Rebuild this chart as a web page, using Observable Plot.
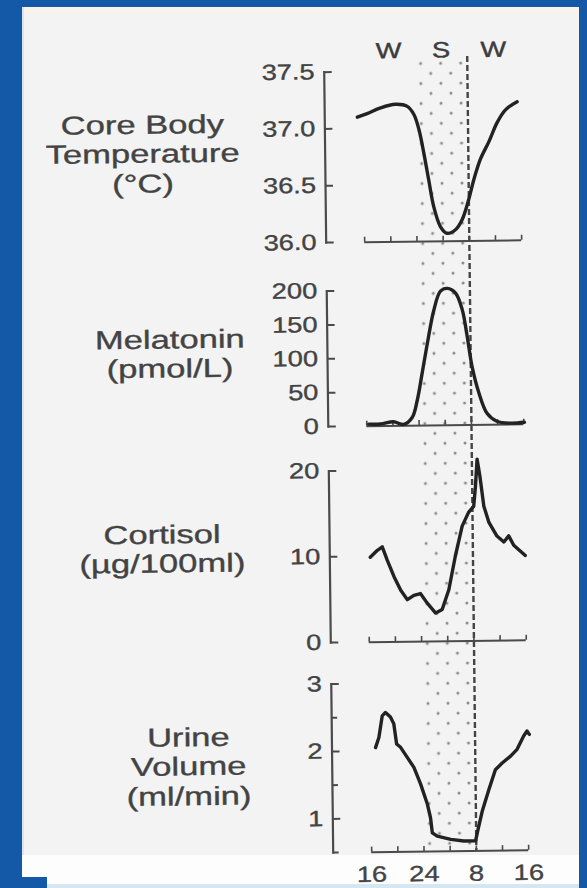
<!DOCTYPE html>
<html>
<head>
<meta charset="utf-8">
<script src="https://cdn.jsdelivr.net/npm/d3@7"></script>
<script src="https://cdn.jsdelivr.net/npm/@observablehq/plot@0.6"></script>
<style>
  html, body { margin: 0; padding: 0; }
  body { width: 587px; height: 888px; overflow: hidden; position: relative; background: #1459a7; font-family: "Liberation Sans", Arial, sans-serif; }
  .bgpanel { position: absolute; left: 22px; top: 7px; width: 557px; height: 848px; background: #f3f3f3; box-shadow: inset 2px 0 0 #dbe6f1; }
  .topstrip { position: absolute; left: 24px; top: 7px; width: 555px; height: 6px; background: #faf3ec; }
  .bottomstrip { position: absolute; left: 22px; top: 855px; width: 557px; height: 29px; background: #fdfdfd; }
  .bottomline { position: absolute; left: 47px; top: 884px; width: 532px; height: 4px; background: #d6e7f4; }
  .cornerblock { position: absolute; left: 0; top: 877px; width: 47px; height: 11px; background: #1459a7; }
  #chart { position: absolute; left: 0; top: 0; width: 587px; height: 888px; transform: rotate(-0.66deg); transform-origin: 293.5px 444px; }
  #chart svg { position: absolute; left: 0; }
  .ylabel { position: absolute; width: 260px; height: 29.5px; text-align: center; font-size: 26px; line-height: 29.5px; color: #434343; -webkit-text-stroke: 0.35px #434343; transform: scaleX(1.33); transform-origin: 50% 50%; white-space: nowrap; }
</style>
</head>
<body>
<div class="bgpanel"></div>
<div class="topstrip"></div>
<div class="bottomstrip"></div>
<div class="bottomline"></div>
<div class="cornerblock"></div>
<svg width="0" height="0" style="position:absolute">
  <defs>
    <pattern id="stipple" width="20" height="20" patternUnits="userSpaceOnUse">
      <circle cx="5" cy="5" r="1.5" fill="#8a8a8a"></circle>
      <circle cx="15" cy="15" r="1.5" fill="#8a8a8a"></circle>
    </pattern>
  </defs>
</svg>
<div id="chart"></div>
<script>
// ---- data ----
const xTicks = [16, 20, 24, 28, 32, 36, 40];
const xLabelHours = [16, 24, 32, 40];
const xLabelTexts = ["16", "24", "8", "16"];
const sleepStart = [24];
const sleepEnd = [32];
const periodHours = [20, 28, 36];
const periodLabels = ["W", "S", "W"];

const tempLabel = ["Core Body", "Temperature", "(°C)"];
const tempTicks = [36.0, 36.5, 37.0, 37.5];
const tempHours = [15.1, 16.6, 18.66, 20.95, 22.74, 23.73, 24.47, 25.19, 25.9, 26.6, 27.6, 28.6, 29.9, 30.95, 32.0, 32.8, 33.85, 35.15, 36.47, 37.75, 39.55];
const tempValues = [37.10, 37.13, 37.18, 37.21, 37.19, 37.12, 36.99, 36.78, 36.54, 36.31, 36.13, 36.07, 36.10, 36.19, 36.37, 36.54, 36.72, 36.87, 37.04, 37.15, 37.22];

const melLabel = ["Melatonin", "(pmol/L)"];
const melTicks = [0, 50, 100, 150, 200];
const melHours = [16.3, 18.1, 20.1, 21.65, 22.95, 23.75, 24.55, 25.4, 26.45, 27.5, 28.55, 29.8, 30.8, 31.5, 32.2, 33.2, 34.4, 35.9, 38.0, 40.1];
const melValues = [3, 3, 6, 2, 12, 37, 77, 121, 170, 198, 202, 195, 170, 131, 86, 47, 17, 5, 2, 3];

const cortLabel = ["Cortisol", "(µg/100ml)"];
const cortTicks = [0, 10, 20];
const cortHours = [16.3, 17.4, 18.15, 18.9, 19.9, 20.9, 21.9, 22.9, 23.9, 24.9, 26.2, 27.2, 28.25, 29.3, 30.4, 31.4, 32.2, 32.5, 32.8, 33.2, 33.75, 34.5, 35.7, 36.75, 37.5, 38.25, 40.0];
const cortValues = [9.9, 10.7, 11.1, 9.5, 7.6, 6.0, 4.9, 5.4, 5.6, 4.5, 3.3, 3.7, 6.0, 9.9, 13.4, 15.0, 15.7, 18.0, 21.2, 19.2, 15.7, 13.8, 12.2, 11.5, 12.2, 11.1, 9.9];

const urineLabel = ["Urine", "Volume", "(ml/min)"];
const urineTicks = [1, 2, 3];
const urineMinorTicks = [0.5, 1.5, 2.5];
const urineHours = [16.77, 17.3, 17.85, 18.35, 19.1, 19.6, 20.0, 20.6, 21.6, 22.6, 23.6, 24.6, 25.05, 25.3, 26.05, 28.1, 30.1, 31.9, 32.25, 33.0, 34.0, 35.05, 36.1, 37.4, 38.4, 39.45, 39.95, 40.3];
const urineValues = [2.05, 2.2, 2.52, 2.57, 2.5, 2.4, 2.1, 2.05, 1.9, 1.75, 1.5, 1.2, 1.0, 0.775, 0.725, 0.675, 0.65, 0.65, 0.8, 1.1, 1.4, 1.7, 1.8, 1.9, 2.0, 2.2, 2.27, 2.22];

// ---- style ----
const AXIS = "#4a4a4a";
const TEXT = "#434343";
const CURVE = "#222";
const FONT = "Liberation Sans, Arial, sans-serif";
const X_RANGE = [366.5, 523.5];
const Y_AXIS_X = 328;
const STRETCH = 1.24;

const chart = document.getElementById("chart");

function stretchText(svg) {
  svg.querySelectorAll("text").forEach(t => {
    const len = t.getComputedTextLength();
    if (len > 0) {
      t.setAttribute("textLength", (len * STRETCH).toFixed(2));
      t.setAttribute("lengthAdjust", "spacingAndGlyphs");
    }
  });
}

function addLabel(lines, cx, firstLineY) {
  lines.forEach((line, i) => {
    const div = document.createElement("div");
    div.className = "ylabel";
    div.style.left = (cx - 130) + "px";
    div.style.top = (firstLineY - 14.75 + i * 29.5) + "px";
    div.textContent = line;
    chart.append(div);
  });
}

// ---- sleep band overlay ----
const sleepRows = sleepStart.map((s, i) => ({start: s, end: sleepEnd[i]}));
const periodRows = periodHours.map((h, i) => ({h, label: periodLabels[i]}));
const overlayTop = 20;
const bandTop = 58, bandBottom = 852;
const overlay = Plot.plot({
  width: 587,
  height: bandBottom - overlayTop,
  marginTop: bandTop - overlayTop,
  marginBottom: 0,
  marginLeft: Y_AXIS_X,
  marginRight: 587 - X_RANGE[1],
  x: {domain: [16, 40], range: X_RANGE, axis: null, label: null},
  style: {background: "transparent", overflow: "visible", fontFamily: FONT},
  marks: [
    Plot.rect(sleepRows, {x1: "start", x2: "end", fill: "url(#stipple)"}),
    Plot.ruleX(sleepRows, {x: "end", stroke: "#444", strokeWidth: 2.4, strokeDasharray: "6,3"}),
    Plot.text(periodRows, {x: "h", text: "label", frameAnchor: "top", dy: -15, fontSize: 22, fill: "#3c3c3c",
      stroke: "#3c3c3c", strokeWidth: 0.4})
  ]
});
overlay.style.top = overlayTop + "px";
chart.append(overlay);
stretchText(overlay);

// ---- panels ----
function makePanel(cfg) {
  const {hours, values, domain, ticks, minorTicks, format, yTop, yBottom, xLabels, curve} = cfg;
  const mt = 18, mb = xLabels ? 38 : 10;
  const height = (yBottom - yTop) + mt + mb;
  const rows = hours.map((h, i) => ({h, v: values[i]}));
  const marks = [
    Plot.frame({anchor: "left", stroke: AXIS, strokeWidth: 2.2}),
    Plot.axisY({anchor: "left", ticks, tickSize: 8, dx: 8, tickPadding: 9.5, tickFormat: format, label: null,
      stroke: AXIS, strokeWidth: 2, fill: TEXT, fontSize: 22, textStroke: TEXT, textStrokeWidth: 0.35})
  ];
  if (minorTicks) {
    marks.push(Plot.axisY({anchor: "left", ticks: minorTicks, tickSize: 6, dx: 6, fill: "none", label: null,
      stroke: AXIS, strokeWidth: 2}));
  }
  marks.push(
    Plot.ruleY([domain[0]], {x1: xTicks[0], x2: xTicks[xTicks.length - 1], stroke: AXIS, strokeWidth: 2}),
    Plot.axisX({anchor: "bottom", ticks: xTicks, tickSize: 5, dy: -5, fill: "none", label: null, stroke: AXIS, strokeWidth: 1.6})
  );
  if (xLabels) {
    marks.push(Plot.axisX({anchor: "bottom", ticks: xLabelHours, tickSize: 0, tickPadding: 14, label: null,
      tickFormat: d => xLabelTexts[xLabelHours.indexOf(d)], fill: TEXT, fontSize: 22, textStroke: TEXT, textStrokeWidth: 0.35}));
  }
  marks.push(Plot.line(rows, {x: "h", y: "v", stroke: CURVE, strokeWidth: 3.4, curve, strokeLinejoin: "round", strokeLinecap: "round"}));
  const svg = Plot.plot({
    width: 587,
    height,
    marginLeft: Y_AXIS_X,
    marginRight: 587 - X_RANGE[1],
    marginTop: mt,
    marginBottom: mb,
    x: {domain: [16, 40], range: X_RANGE, label: null},
    y: {domain, label: null},
    style: {background: "transparent", overflow: "visible", fontFamily: FONT},
    marks
  });
  svg.style.top = (yTop - mt) + "px";
  chart.append(svg);
  stretchText(svg);
}

makePanel({hours: tempHours, values: tempValues, domain: [36, 37.5], ticks: tempTicks,
  format: d3.format(".1f"), yTop: 72, yBottom: 242.5, curve: "catmull-rom"});
makePanel({hours: melHours, values: melValues, domain: [0, 200], ticks: melTicks,
  format: d3.format("d"), yTop: 290.5, yBottom: 426, curve: "catmull-rom"});
makePanel({hours: cortHours, values: cortValues, domain: [0, 20], ticks: cortTicks,
  format: d3.format("d"), yTop: 470.5, yBottom: 642, curve: "linear"});
makePanel({hours: urineHours, values: urineValues, domain: [0.5, 3], ticks: urineTicks, minorTicks: urineMinorTicks,
  format: d3.format("d"), yTop: 683.5, yBottom: 852, xLabels: true, curve: "linear"});

// ---- left labels ----
addLabel(tempLabel, 146.4, 123.3);
addLabel(melLabel, 171, 338.6);
addLabel(cortLabel, 160.7, 533.5);
addLabel(urineLabel, 185.3, 736.3);
</script>
</body>
</html>
